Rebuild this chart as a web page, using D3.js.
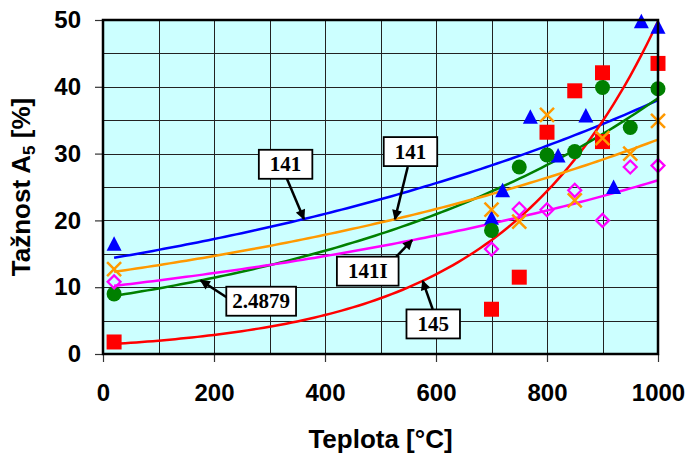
<!DOCTYPE html>
<html>
<head>
<meta charset="utf-8">
<script src="https://cdn.jsdelivr.net/npm/d3@7"></script>
<style>
  body { margin: 0; background: #fff; }
  svg { display: block; }
  .tick text { font-family: 'Liberation Sans', Arial, sans-serif; font-weight: bold; font-size: 24px; fill: #000; }
  .title { font-family: 'Liberation Sans', Arial, sans-serif; font-weight: bold; font-size: 26px; fill: #000; }
  .note { font-family: 'Liberation Serif', 'Times New Roman', serif; font-weight: bold; font-size: 21px; fill: #000; }
</style>
</head>
<body>
<div id="main"></div>
<script>
const w = 690, h = 455;
const margin = {top: 20, right: 32, bottom: 101, left: 103};

// measured points (temperature in °C, elongation A5 in %)
const tempBlue = [20, 700, 720, 770, 820, 870, 920, 970, 1000];
const valBlue = [16.5, 20.4, 24.5, 35.5, 29.7, 35.7, 25.0, 49.8, 49.0];
const tempRed = [20, 700, 750, 800, 850, 900, 900, 1000];
const valRed = [1.8, 6.7, 11.5, 33.2, 39.4, 42.1, 31.8, 43.5];
const tempGreen = [20, 700, 750, 800, 850, 900, 950, 1000];
const valGreen = [9.0, 18.5, 28.0, 29.8, 30.3, 39.9, 33.9, 39.7];
const tempOrange = [20, 700, 750, 800, 850, 900, 950, 1000];
const valOrange = [12.7, 21.6, 19.8, 35.8, 23.0, 32.3, 30.0, 34.9];
const tempPink = [20, 700, 750, 800, 850, 900, 950, 1000];
const valPink = [10.8, 15.7, 21.7, 21.6, 24.5, 20.0, 28.0, 28.2];

// exponential trend lines, values read at both ends (20 °C and 1000 °C)
const trendX = [20, 1000];
const trendBlue = [14.4, 38.0];
const trendRed = [1.5, 49.8];
const trendGreen = [8.7, 38.3];
const trendOrange = [12.3, 32.1];
const trendPink = [10.2, 26.0];

const xTicks = [0, 200, 400, 600, 800, 1000];
const yTicks = [0, 10, 20, 30, 40, 50];

// callout labels: text, box centre, arrow start, x where arrow hits the trend line
const noteText = ['141', '141', '141I', '2.4879', '145'];
const noteSeries = ['blue', 'orange', 'pink', 'green', 'red'];
const noteBox = [[329, 28.4], [554, 30.3], [477, 12.4], [285, 7.9], [595, 4.5]];
const noteFrom = [[331, 26.3], [549, 28.0], [523, 14.1], [226, 8.3], [594, 6.7]];
const noteTipX = [362, 526, 557, 176, 576];

const series = [
  {key: 'blue', color: '#0000ff', mark: 'triangle', t: tempBlue, v: valBlue, trend: trendBlue},
  {key: 'red', color: '#ff0000', mark: 'square', t: tempRed, v: valRed, trend: trendRed},
  {key: 'green', color: '#008000', mark: 'circle', t: tempGreen, v: valGreen, trend: trendGreen},
  {key: 'orange', color: '#ff9900', mark: 'cross', t: tempOrange, v: valOrange, trend: trendOrange},
  {key: 'pink', color: '#ff00ff', mark: 'diamond', t: tempPink, v: valPink, trend: trendPink}
];

// exponential trend through the two read values: a log scale on y is linear in x
series.forEach(s => {
  const ly = d3.scaleLinear().domain(trendX).range(s.trend.map(Math.log));
  s.fit = t => Math.exp(ly(t));
});

const svg = d3.select('#main').append('svg').attr('width', w).attr('height', h);

const x = d3.scaleLinear().domain([0, 1000]).range([margin.left, w - margin.right]);
const y = d3.scaleLinear().domain([0, 50]).range([h - margin.bottom, margin.top]);

svg.append('defs').append('marker')
  .attr('id', 'arrow')
  .attr('viewBox', '0 0 10 10')
  .attr('refX', 9).attr('refY', 5)
  .attr('markerWidth', 12).attr('markerHeight', 10)
  .attr('markerUnits', 'userSpaceOnUse')
  .attr('orient', 'auto')
  .append('path').attr('d', 'M0,0 L10,5 L0,10 Z').attr('fill', '#000');

// plot background
svg.append('rect')
  .attr('x', x(0)).attr('y', y(50))
  .attr('width', x(1000) - x(0)).attr('height', y(0) - y(50))
  .attr('fill', '#ccffff');

// grid
svg.append('g').selectAll('line')
  .data(d3.range(100, 1000, 100))
  .join('line')
  .attr('x1', d => Math.round(x(d)) + 0.5).attr('x2', d => Math.round(x(d)) + 0.5)
  .attr('y1', y(50)).attr('y2', y(0))
  .attr('stroke', '#222').attr('stroke-width', 1);
svg.append('g').selectAll('line')
  .data(d3.range(5, 50, 5))
  .join('line')
  .attr('x1', x(0)).attr('x2', x(1000))
  .attr('y1', d => Math.round(y(d)) + 0.5).attr('y2', d => Math.round(y(d)) + 0.5)
  .attr('stroke', '#222').attr('stroke-width', 1);

// axes
const yAxis = svg.append('g')
  .attr('transform', 'translate(' + x(0) + ',0)')
  .call(d3.axisLeft(y).tickValues(yTicks).tickSize(8).tickPadding(14).tickFormat(d3.format('d')));
const xAxis = svg.append('g')
  .attr('transform', 'translate(0,' + y(0) + ')')
  .call(d3.axisBottom(x).tickValues(xTicks).tickSize(8).tickPadding(22).tickFormat(d3.format('d')));
[xAxis, yAxis].forEach(g => {
  g.select('.domain').remove();
  g.selectAll('.tick line').attr('stroke', '#333').attr('stroke-width', 1.2);
});

// trend lines
const line = d3.line().x(d => x(d[0])).y(d => y(d[1]));
series.forEach(s => {
  const pts = d3.range(trendX[0], trendX[1] + 0.1, 10).map(t => [t, s.fit(t)]);
  svg.append('path')
    .attr('d', line(pts))
    .attr('fill', 'none')
    .attr('stroke', s.color)
    .attr('stroke-width', 2.5);
});

// markers
const markPath = {
  triangle: 'M0,-7.5 L7.5,7 L-7.5,7 Z',
  square: 'M-7.5,-7.5 H7.5 V7.5 H-7.5 Z',
  diamond: 'M0,-6.5 L6.5,0 L0,6.5 L-6.5,0 Z',
  cross: 'M-7,-7 L7,7 M7,-7 L-7,7'
};
series.forEach(s => {
  const g = svg.append('g');
  const pts = s.t.map((t, i) => [t, s.v[i]]);
  if (s.mark === 'circle') {
    g.selectAll('circle').data(pts).join('circle')
      .attr('cx', d => x(d[0])).attr('cy', d => y(d[1]))
      .attr('r', 7.5).attr('fill', s.color);
  } else {
    const hollow = s.mark === 'cross' || s.mark === 'diamond';
    g.selectAll('path').data(pts).join('path')
      .attr('transform', d => 'translate(' + x(d[0]) + ',' + y(d[1]) + ')')
      .attr('d', markPath[s.mark])
      .attr('fill', hollow ? 'none' : s.color)
      .attr('stroke', hollow ? s.color : 'none')
      .attr('stroke-width', s.mark === 'cross' ? 2.5 : 2.2);
  }
});

// border
svg.append('rect')
  .attr('x', x(0)).attr('y', y(50))
  .attr('width', x(1000) - x(0)).attr('height', y(0) - y(50))
  .attr('fill', 'none').attr('stroke', '#000').attr('stroke-width', 2.5);

// callouts
noteText.forEach((txt, i) => {
  const s = series.find(d => d.key === noteSeries[i]);
  const tip = [x(noteTipX[i]), y(s.fit(noteTipX[i]))];
  svg.append('line')
    .attr('x1', x(noteFrom[i][0])).attr('y1', y(noteFrom[i][1]))
    .attr('x2', tip[0]).attr('y2', tip[1])
    .attr('stroke', '#000').attr('stroke-width', 2.5)
    .attr('marker-end', 'url(#arrow)');
  const g = svg.append('g').attr('transform', 'translate(' + x(noteBox[i][0]) + ',' + y(noteBox[i][1]) + ')');
  const rect = g.append('rect').attr('fill', '#fff').attr('stroke', '#000').attr('stroke-width', 1.8);
  const t = g.append('text').attr('class', 'note').attr('text-anchor', 'middle').attr('dy', '0.34em').text(txt);
  const bw = t.node().getComputedTextLength() + (txt.length > 4 ? 12 : 22);
  rect.attr('x', -bw / 2).attr('y', -14.5).attr('width', bw).attr('height', 29);
});

// axis titles
svg.append('text')
  .attr('class', 'title')
  .attr('x', (x(0) + x(1000)) / 2).attr('y', 448)
  .attr('text-anchor', 'middle')
  .text('Teplota [°C]');

const yt = svg.append('text')
  .attr('class', 'title')
  .attr('transform', 'translate(30,' + (y(0) + y(50)) / 2 + ') rotate(-90)')
  .attr('text-anchor', 'middle');
yt.append('tspan').text('Tažnost A');
yt.append('tspan').attr('font-size', '17px').attr('dy', 5).text('5');
yt.append('tspan').attr('dy', -5).text(' [%]');
</script>
</body>
</html>
